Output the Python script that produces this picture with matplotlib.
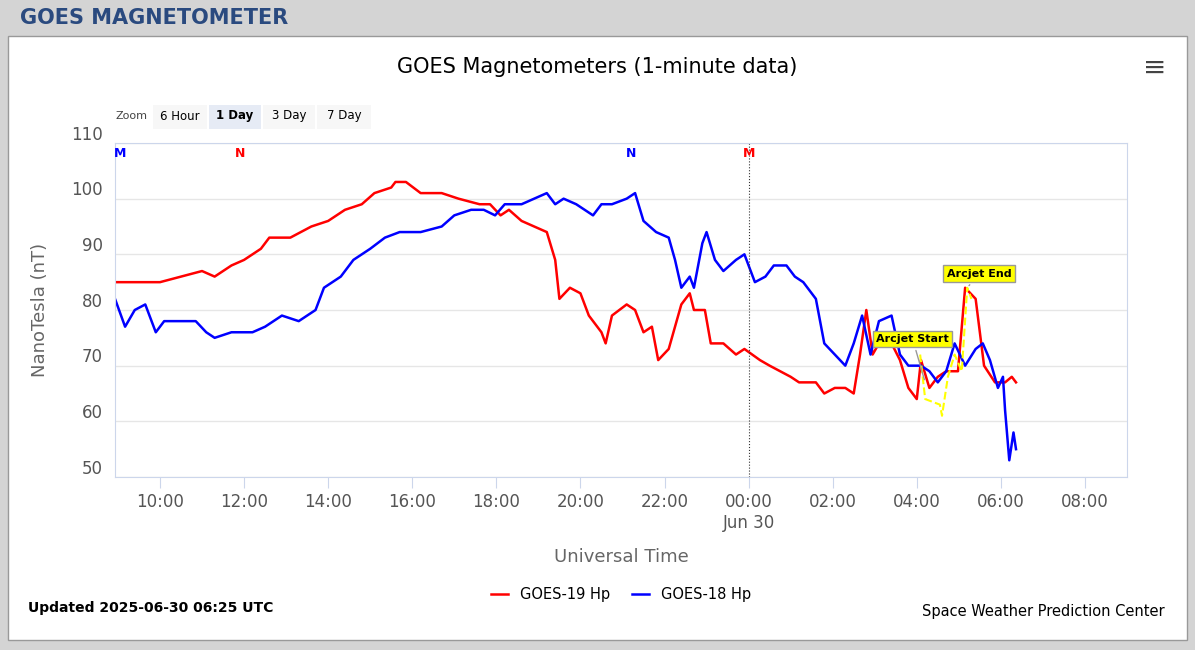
import matplotlib.pyplot as plt
from matplotlib.patches import Rectangle

# hours since 2025-06-29 00:00 UTC
g19_t = [8.93, 10.0, 10.5, 11.0, 11.3, 11.7, 12.0, 12.4, 12.6, 13.1, 13.6, 14.0, 14.4, 14.8, 15.1,
         15.5, 15.6, 15.85, 16.2, 16.7, 17.1, 17.6, 17.85, 18.1, 18.3, 18.6, 18.9, 19.2, 19.4, 19.5,
         19.75, 20.0, 20.2, 20.5, 20.6, 20.75, 21.1, 21.3, 21.5, 21.7, 21.85, 22.1, 22.4, 22.6, 22.7,
         22.96, 23.1, 23.4, 23.7, 23.9, 24.27, 24.5, 24.75, 25.0, 25.2, 25.6, 25.8, 26.05, 26.3, 26.5,
         26.65, 26.8, 26.95, 27.1, 27.4, 27.6, 27.8, 28.0, 28.1, 28.3, 28.5, 28.7, 28.98, 29.15, 29.4,
         29.6, 29.86, 30.1, 30.26, 30.36]
g19_v = [85, 85, 86, 87, 86, 88, 89, 91, 93, 93, 95, 96, 98, 99, 101,
         102, 103, 103, 101, 101, 100, 99, 99, 97, 98, 96, 95, 94, 89, 82,
         84, 83, 79, 76, 74, 79, 81, 80, 76, 77, 71, 73, 81, 83, 80,
         80, 74, 74, 72, 73, 71, 70, 69, 68, 67, 67, 65, 66, 66, 65,
         72, 80, 72, 74, 74, 71, 66, 64, 71, 66, 68, 69, 69, 84, 82,
         70, 67, 67, 68, 67]
g18_t = [8.93, 9.17, 9.4, 9.65, 9.9, 10.1, 10.5, 10.85, 11.1, 11.3, 11.7, 12.2, 12.5, 12.9, 13.3,
         13.7, 13.9, 14.3, 14.6, 15.0, 15.35, 15.7, 16.2, 16.7, 17.0, 17.4, 17.7, 17.97, 18.2, 18.6,
         18.9, 19.2, 19.4, 19.6, 19.9, 20.1, 20.3, 20.5, 20.75, 21.1, 21.3, 21.5, 21.8, 22.1, 22.25,
         22.4, 22.6, 22.7, 22.9, 23.0, 23.2, 23.4, 23.7, 23.9, 24.15, 24.4, 24.6, 24.9, 25.1, 25.3,
         25.6, 25.8, 26.05, 26.3, 26.5, 26.7, 26.9, 27.1, 27.4, 27.6, 27.8, 28.1, 28.3, 28.5, 28.7,
         28.9, 29.15, 29.4, 29.57, 29.74, 29.93, 30.05, 30.1, 30.2, 30.3, 30.36]
g18_v = [82, 77, 80, 81, 76, 78, 78, 78, 76, 75, 76, 76, 77, 79, 78,
         80, 84, 86, 89, 91, 93, 94, 94, 95, 97, 98, 98, 97, 99, 99,
         100, 101, 99, 100, 99, 98, 97, 99, 99, 100, 101, 96, 94, 93, 89,
         84, 86, 84, 92, 94, 89, 87, 89, 90, 85, 86, 88, 88, 86, 85,
         82, 74, 72, 70, 74, 79, 72, 78, 79, 72, 70, 70, 69, 67, 69,
         74, 70, 73, 74, 71, 66, 68, 62, 53, 58, 55]
arc_t = [28.08, 28.2, 28.55, 28.6, 28.74, 28.9, 29.07, 29.2, 29.3]
arc_v = [72, 64, 63, 61, 68, 72, 69, 84, 82]
tick_h = [10, 12, 14, 16, 18, 20, 22, 24, 26, 28, 30, 32]
tick_lbl = ["10:00", "12:00", "14:00", "16:00", "18:00", "20:00", "22:00",
            "00:00\nJun 30", "02:00", "04:00", "06:00", "08:00"]
yticks = [50, 60, 70, 80, 90, 100, 110]

fig = plt.figure(figsize=(11.95, 6.5), dpi=100)
fig.patch.set_facecolor("#d4d4d4")
fig.add_artist(Rectangle((8/1195, 10/650), 1179/1195, 604/650, transform=fig.transFigure,
                         facecolor="white", edgecolor="#999999", lw=1, zorder=-10))
fig.text(20/1195, 1 - 18/650, "GOES MAGNETOMETER", fontsize=15, fontweight="bold",
         color="#2a4a7f", va="center")
fig.text(597/1195, 1 - 67/650, "GOES Magnetometers (1-minute data)", fontsize=15,
         ha="center", va="center")
fig.text(1155/1195, 1 - 68/650, "\u2261", fontsize=20, ha="center", va="center", color="#444")
fig.text(115/1195, 1 - 116/650, "Zoom", fontsize=8, color="#444", va="center")
for x0, w, lbl, sel in [(153, 54, "6 Hour", False), (209, 52, "1 Day", True),
                        (263, 52, "3 Day", False), (317, 54, "7 Day", False)]:
    fig.add_artist(Rectangle((x0/1195, 1 - 129/650), w/1195, 24/650, transform=fig.transFigure,
                             facecolor="#e6ebf5" if sel else "#f7f7f7", edgecolor="none", zorder=-5))
    fig.text((x0 + w/2)/1195, 1 - 116/650, lbl, fontsize=8.5, ha="center", va="center",
             fontweight="bold" if sel else "normal")

ax = fig.add_axes([115/1195, 1 - 477/650, 1012/1195, 334/650])
ax.plot(g19_t, g19_v, color="#ff0000", lw=1.8, label="GOES-19 Hp")
ax.plot(g18_t, g18_v, color="#0000ff", lw=1.8, label="GOES-18 Hp")
ax.plot(arc_t, arc_v, color="#ffff00", lw=1.5, ls="--")
ax.axvline(24.0, color="#333", lw=0.8, ls=":")
ax.set_xlim(8.93, 33.0)
ax.set_ylim(50, 110)
ax.set_yticks(yticks)
ax.set_yticklabels([])
for v in yticks:
    ax.text(-0.012, v + 1.5, str(v), transform=ax.get_yaxis_transform(), ha="right",
            va="center", fontsize=12, color="#555")
ax.set_xticks(tick_h)
ax.set_xticklabels(tick_lbl, fontsize=12, color="#555")
ax.grid(axis="y", color="#e6e6e6", lw=1)
for s in ["top", "right", "left", "bottom"]:
    ax.spines[s].set_color("#ccd6eb")
ax.tick_params(axis="y", length=0)
ax.tick_params(axis="x", color="#ccd6eb", length=8)
ax.set_xlabel("Universal Time", fontsize=13, color="#666", labelpad=12)
ax.set_ylabel("NanoTesla (nT)", fontsize=13, color="#666", labelpad=44)
for t, lbl, c in [(9.05, "M", "#0000ff"), (11.9, "N", "#ff0000"),
                  (21.2, "N", "#0000ff"), (24.0, "M", "#ff0000")]:
    ax.text(t, 108.2, lbl, color=c, fontsize=9, fontweight="bold", ha="center", va="center")
ax.annotate("Arcjet Start", xy=(28.2, 67), xytext=(27.9, 74.8), fontsize=8, fontweight="bold",
            ha="center", va="center", bbox=dict(boxstyle="square,pad=0.3", fc="#ffff00", ec="#999"),
            arrowprops=dict(arrowstyle="-", color="#999"))
ax.annotate("Arcjet End", xy=(29.2, 84), xytext=(29.48, 86.5), fontsize=8, fontweight="bold",
            ha="center", va="center", bbox=dict(boxstyle="square,pad=0.3", fc="#ffff00", ec="#999"),
            arrowprops=dict(arrowstyle="-", color="#999"))
ax.legend(loc="upper center", bbox_to_anchor=(0.5, -0.29), ncol=2, frameon=False,
          fontsize=10.5, handlelength=1.2, columnspacing=1.5)
fig.text(28/1195, 1 - 612/650, "Updated 2025-06-30 06:25 UTC", fontsize=10, fontweight="bold")
fig.text(1165/1195, 1 - 616/650, "Space Weather Prediction Center", fontsize=10.5, ha="right")
fig.savefig("out.png", dpi=100, facecolor=fig.get_facecolor())
